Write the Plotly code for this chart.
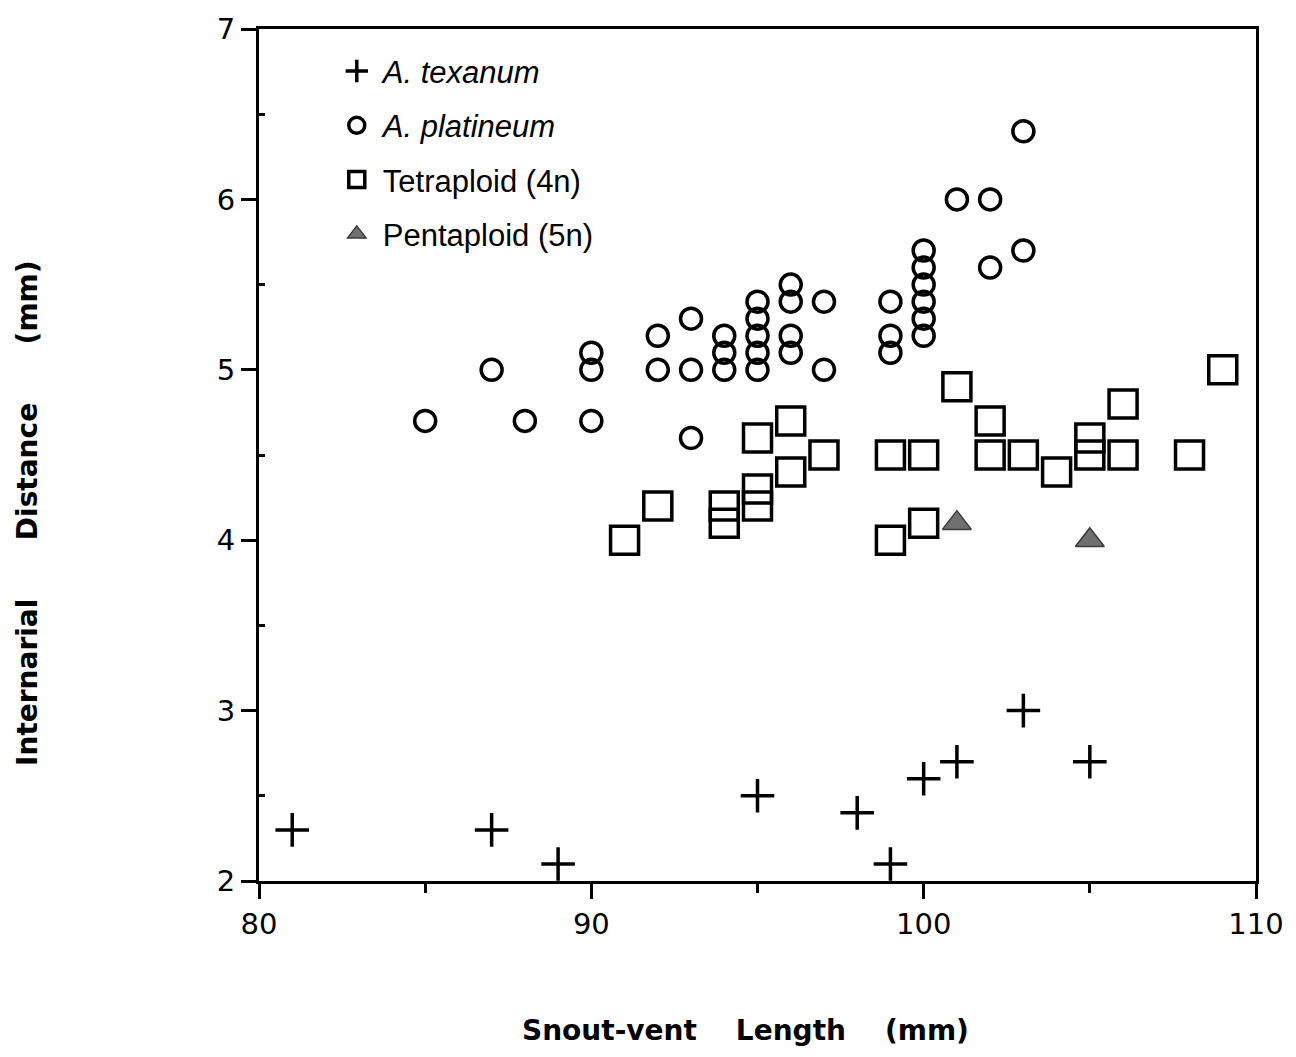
import plotly.graph_objects as go

# A. texanum
tex_x = [81, 87, 89, 95, 98, 99, 100, 101, 103, 105]
tex_y = [2.3, 2.3, 2.1, 2.5, 2.4, 2.1, 2.6, 2.7, 3.0, 2.7]

# A. platineum
pla_x = [85, 87, 88, 90, 90, 90, 92, 92, 93, 93, 93, 94, 94, 94,
         95, 95, 95, 95, 95, 96, 96, 96, 96, 97, 97, 99, 99, 99,
         100, 100, 100, 100, 100, 100, 101, 102, 102, 103, 103]
pla_y = [4.7, 5.0, 4.7, 5.1, 5.0, 4.7, 5.2, 5.0, 5.3, 5.0, 4.6, 5.2, 5.1, 5.0,
         5.4, 5.3, 5.2, 5.1, 5.0, 5.5, 5.4, 5.2, 5.1, 5.4, 5.0, 5.4, 5.2, 5.1,
         5.7, 5.6, 5.5, 5.4, 5.3, 5.2, 6.0, 6.0, 5.6, 6.4, 5.7]

# Tetraploid (4n)
tet_x = [91, 92, 94, 94, 95, 95, 95, 96, 96, 97, 99, 99, 100, 100,
         101, 102, 102, 103, 104, 105, 105, 106, 106, 108, 109]
tet_y = [4.0, 4.2, 4.2, 4.1, 4.6, 4.3, 4.2, 4.7, 4.4, 4.5, 4.5, 4.0, 4.5, 4.1,
         4.9, 4.7, 4.5, 4.5, 4.4, 4.6, 4.5, 4.8, 4.5, 4.5, 5.0]

# Pentaploid (5n)
pen_x = [101, 105]
pen_y = [4.1, 4.0]

x_ticks = [80, 90, 100, 110]
y_ticks = [2, 3, 4, 5, 6, 7]

fig = go.Figure()
fig.add_trace(go.Scatter(
    x=tex_x, y=tex_y, mode="markers", name="<i>A. texanum</i>", legendgroup="a",
    marker=dict(symbol="cross-thin", size=24, color="black",
                line=dict(color="black", width=3.5))))
fig.add_trace(go.Scatter(
    x=pla_x, y=pla_y, mode="markers", name="<i>A. platineum</i>", legendgroup="b",
    marker=dict(symbol="circle-open", size=21, color="black",
                line=dict(color="black", width=3.5))))
fig.add_trace(go.Scatter(
    x=tet_x, y=tet_y, mode="markers", name="Tetraploid (4n)", legendgroup="c",
    marker=dict(symbol="square-open", size=28, color="black",
                line=dict(color="black", width=3.5))))
fig.add_trace(go.Scatter(
    x=pen_x, y=pen_y, mode="markers", name="Pentaploid (5n)", legendgroup="d",
    marker=dict(symbol="triangle-up", size=25, color="#707070",
                line=dict(color="#3a3a3a", width=1.5))))

axis_common = dict(
    showline=True, linecolor="black", linewidth=3, mirror=True,
    showgrid=False, zeroline=False, ticks="outside", tickcolor="black",
    tickwidth=3,
)

fig.update_xaxes(
    range=[80, 110], tickvals=x_ticks, ticktext=[str(v) for v in x_ticks],
    ticklen=15,
    tickfont=dict(family="DejaVu Sans", size=29, color="black"),
    minor=dict(tickvals=[85, 95, 105], ticks="outside", ticklen=9,
               tickwidth=3, tickcolor="black"),
    **axis_common)
fig.update_yaxes(
    range=[2, 7], tickvals=y_ticks, ticktext=[str(v) for v in y_ticks],
    ticklen=15,
    tickfont=dict(family="DejaVu Sans", size=29, color="black"),
    minor=dict(tickvals=[2.5, 3.5, 4.5, 5.5, 6.5], ticks="inside", ticklen=6,
               tickwidth=3, tickcolor="black"),
    **axis_common)

nb = "\u00a0"
fig.add_annotation(
    text="Snout-vent" + nb * 4 + "Length" + nb * 4 + "(mm)",
    xref="paper", yref="paper", x=0.4875, y=-0.1758,
    showarrow=False, xanchor="center", yanchor="middle",
    font=dict(family="DejaVu Sans", size=28, color="black", weight="bold"))
fig.add_annotation(
    text="Internarial" + nb * 6 + "Distance" + nb * 6 + "(mm)",
    xref="paper", yref="paper", x=-0.2317, y=0.432, textangle=-90,
    showarrow=False, xanchor="center", yanchor="middle",
    font=dict(family="DejaVu Sans", size=28, color="black", weight="bold"))

fig.update_layout(
    width=1296, height=1057,
    margin=dict(l=259, r=40, t=22, b=176),
    paper_bgcolor="white", plot_bgcolor="white",
    showlegend=True,
    legend=dict(x=0.072, y=0.982, xanchor="left", yanchor="top",
                bgcolor="rgba(0,0,0,0)", borderwidth=0,
                font=dict(family="Liberation Sans", size=31, color="black"),
                tracegroupgap=11, itemwidth=42, itemclick=False),
)

fig.write_html("out.html")
